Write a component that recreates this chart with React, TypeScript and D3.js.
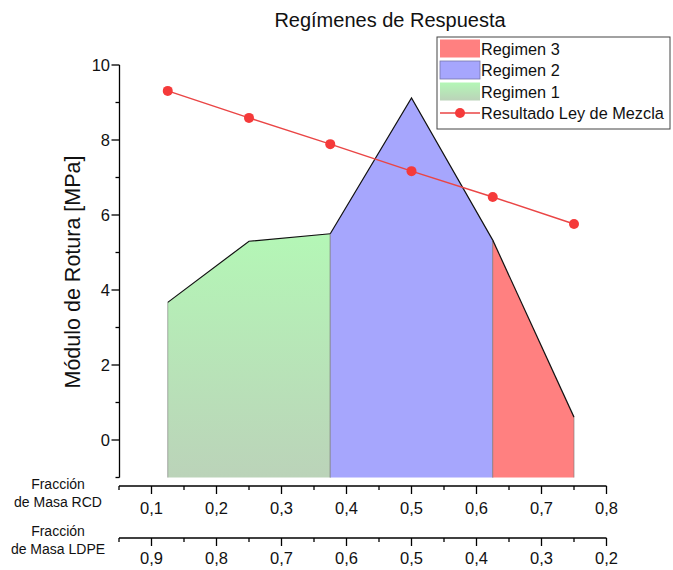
import React from "react";
import * as d3 from "d3";

const title = "Regímenes de Respuesta";
const yTitle = "Módulo de Rotura [MPa]";
const regimen1X = [0.125, 0.25, 0.375];
const regimen1Y = [3.67, 5.3, 5.5];
const regimen2X = [0.375, 0.5, 0.625];
const regimen2Y = [5.5, 9.12, 5.33];
const regimen3X = [0.625, 0.75];
const regimen3Y = [5.33, 0.61];
const mezclaX = [0.125, 0.25, 0.375, 0.5, 0.625, 0.75];
const mezclaY = [9.31, 8.59, 7.89, 7.17, 6.48, 5.76];
const yMajor = [0, 2, 4, 6, 8, 10];
const yMinor = [-1, 1, 3, 5, 7, 9];
const rcdMajor = [0.1, 0.2, 0.3, 0.4, 0.5, 0.6, 0.7, 0.8];
const rcdMinor = [0.05, 0.15, 0.25, 0.35, 0.45, 0.55, 0.65, 0.75];
const ldpeMajor = [0.9, 0.8, 0.7, 0.6, 0.5, 0.4, 0.3, 0.2];
const ldpeMinor = [0.95, 0.85, 0.75, 0.65, 0.55, 0.45, 0.35, 0.25];
const legendLabels = ["Regimen 3", "Regimen 2", "Regimen 1", "Resultado Ley de Mezcla"];

const FONT = "'Liberation Sans', Arial, sans-serif";

export default function App() {
  const W = 673, H = 570;
  const x = d3.scaleLinear().domain([0.05, 0.8]).range([119, 606.5]);
  const x2 = d3.scaleLinear().domain([0.95, 0.2]).range([119, 606.5]);
  const y = d3.scaleLinear().domain([-1, 10]).range([477.5, 65]);
  const fmt = (v: number) => d3.format(".1f")(v).replace(".", ",");

  const area = (xs: number[], ys: number[]) =>
    d3.area<number>().x((_, i) => x(xs[i])).y0(y(-1)).y1((d) => y(d))(ys) || "";
  const top = (xs: number[], ys: number[]) =>
    d3.line<number>().x((_, i) => x(xs[i])).y((d) => y(d))(ys) || "";

  const regions = [
    { xs: regimen1X, ys: regimen1Y, fill: "url(#gGreen)" },
    { xs: regimen2X, ys: regimen2Y, fill: "#a6a6fd" },
    { xs: regimen3X, ys: regimen3Y, fill: "#ff8080" },
  ];

  const axisX = 119.5;
  const ax1 = 486, ax2 = 538;
  const tickFs = 16.5;

  const legendX = 437, legendY = 37, rowH = 21.5;
  const swatches = ["#ff8080", "#a6a6fd", "url(#gGreen)"];

  return (
    <svg width={W} height={H} style={{ position: "absolute", left: 0, top: 0, background: "#fff" }} fontFamily={FONT}>
      <defs>
        <linearGradient id="gGreen" x1="0" y1="0" x2="0" y2="1">
          <stop offset="0" stopColor="#b4f7b6" />
          <stop offset="1" stopColor="#bbd3b9" />
        </linearGradient>
      </defs>
      <text x={390} y={27} textAnchor="middle" fontSize={20} fill="#111">{title}</text>

      {regions.map((r, i) => (
        <g key={i}>
          <path d={area(r.xs, r.ys)} fill={r.fill} stroke="none" />
          <line x1={x(r.xs[0])} x2={x(r.xs[0])} y1={y(r.ys[0])} y2={y(-1)} stroke="#777" strokeOpacity={0.6} strokeWidth={1} />
          <line x1={x(r.xs[r.xs.length - 1])} x2={x(r.xs[r.xs.length - 1])} y1={y(r.ys[r.ys.length - 1])} y2={y(-1)} stroke="#777" strokeOpacity={0.6} strokeWidth={1} />
          <path d={top(r.xs, r.ys)} fill="none" stroke="#111" strokeWidth={1.2} />
        </g>
      ))}

      <path d={top(mezclaX, mezclaY)} fill="none" stroke="#ea4545" strokeWidth={1.5} />
      {mezclaX.map((v, i) => (
        <circle key={i} cx={x(v)} cy={y(mezclaY[i])} r={5} fill="#f53a3a" />
      ))}

      {/* Y axis */}
      <line x1={axisX} x2={axisX} y1={y(10)} y2={y(-1)} stroke="#000" strokeWidth={1.3} />
      {yMajor.map((v) => (
        <g key={v}>
          <line x1={axisX - 8} x2={axisX} y1={y(v)} y2={y(v)} stroke="#000" strokeWidth={1.3} />
          <text x={110} y={y(v) + 6} textAnchor="end" fontSize={tickFs} fill="#111">{v}</text>
        </g>
      ))}
      {yMinor.map((v) => (
        <line key={v} x1={axisX - 4} x2={axisX} y1={y(v)} y2={y(v)} stroke="#000" strokeWidth={1.3} />
      ))}
      <text transform={`translate(80,272) rotate(-90)`} textAnchor="middle" fontSize={21.5} fill="#111">{yTitle}</text>

      {/* X axis RCD */}
      <line x1={x(0.05)} x2={x(0.8)} y1={ax1} y2={ax1} stroke="#000" strokeWidth={1.3} />
      {rcdMajor.map((v) => (
        <g key={v}>
          <line x1={x(v)} x2={x(v)} y1={ax1} y2={ax1 + 8} stroke="#000" strokeWidth={1.3} />
          <text x={x(v)} y={513.5} textAnchor="middle" fontSize={tickFs} fill="#111">{fmt(v)}</text>
        </g>
      ))}
      {rcdMinor.map((v) => (
        <line key={v} x1={x(v)} x2={x(v)} y1={ax1} y2={ax1 + 4} stroke="#000" strokeWidth={1.3} />
      ))}
      <text x={58} y={489} textAnchor="middle" fontSize={14} fill="#111">Fracción</text>
      <text x={58} y={507} textAnchor="middle" fontSize={14} fill="#111">de Masa RCD</text>

      {/* X axis LDPE */}
      <line x1={x2(0.95)} x2={x2(0.2)} y1={ax2} y2={ax2} stroke="#000" strokeWidth={1.3} />
      {ldpeMajor.map((v) => (
        <g key={v}>
          <line x1={x2(v)} x2={x2(v)} y1={ax2} y2={ax2 + 8} stroke="#000" strokeWidth={1.3} />
          <text x={x2(v)} y={564} textAnchor="middle" fontSize={tickFs} fill="#111">{fmt(v)}</text>
        </g>
      ))}
      {ldpeMinor.map((v) => (
        <line key={v} x1={x2(v)} x2={x2(v)} y1={ax2} y2={ax2 + 4} stroke="#000" strokeWidth={1.3} />
      ))}
      <text x={58} y={536} textAnchor="middle" fontSize={14} fill="#111">Fracción</text>
      <text x={58} y={554} textAnchor="middle" fontSize={14} fill="#111">de Masa LDPE</text>

      {/* Legend */}
      <rect x={legendX} y={legendY} width={233} height={92} fill="#fff" stroke="#444" strokeWidth={1} />
      {legendLabels.map((lab, i) => {
        const cy = legendY + 11.5 + i * rowH;
        return (
          <g key={lab}>
            {i < 3 ? (
              <rect x={440} y={cy - 9} width={40} height={18} fill={swatches[i]} stroke={i === 1 ? "#7777aa" : "none"} strokeWidth={0.8} />
            ) : (
              <g>
                <line x1={440} x2={480} y1={cy} y2={cy} stroke="#ea4545" strokeWidth={1.5} />
                <circle cx={460} cy={cy} r={5} fill="#f53a3a" />
              </g>
            )}
            <text x={481} y={cy + 6} fontSize={16.3} fill="#111">{lab}</text>
          </g>
        );
      })}
    </svg>
  );
}
